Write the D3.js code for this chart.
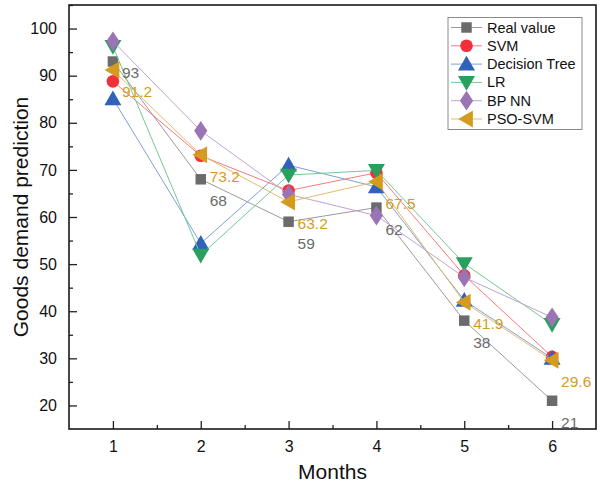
<!DOCTYPE html>
<html><head><meta charset="utf-8">
<script src="https://cdn.jsdelivr.net/npm/d3@7"></script>
<style>body{margin:0;background:#fff}svg{display:block;font-family:Arial,"Liberation Sans",sans-serif}</style>
</head><body>
<svg id="c" width="600" height="491"></svg>
<script>
const months = [1, 2, 3, 4, 5, 6];
const seriesNames = ["Real value", "SVM", "Decision Tree", "LR", "BP NN", "PSO-SVM"];
const realValue = [93, 68, 59, 62, 38, 21];
const svm = [88.8, 73.0, 65.6, 69.4, 47.6, 30.3];
const decisionTree = [85.1, 54.4, 71.0, 66.4, 42.3, 30.0];
const lr = [96.2, 51.9, 68.9, 69.9, 50.1, 37.2];
const bpnn = [97.3, 78.3, 64.8, 60.3, 47.2, 38.7];
const psoSvm = [91.2, 73.2, 63.2, 67.5, 41.9, 29.6];
const yTicks = [20, 30, 40, 50, 60, 70, 80, 90, 100];

const seriesValues = [realValue, svm, decisionTree, lr, bpnn, psoSvm];
const markerColors = ["#6b6b6b", "#f2303c", "#2f62b8", "#2aa05e", "#9b74b5", "#d49c1f"];
const lineColors = ["#9a9a9a", "#f67a80", "#7f9fd6", "#72c996", "#c0a3d2", "#e2bd6a"];
const shapes = ["square", "circle", "triUp", "triDown", "diamond", "triLeft"];

const svg = d3.select("#c");
const L = 69, R = 596, T = 5, B = 429;
const x = d3.scaleLinear().domain([0.5, 6.5]).range([L, R]);
const y = d3.scaleLinear().domain([15, 105]).range([B, T]);

const gx = svg.append("g").attr("transform", `translate(0,${B})`)
  .call(d3.axisBottom(x).tickValues(months).tickSizeInner(-8).tickSizeOuter(0).tickPadding(12).tickFormat(d3.format("d")));
const gxm = svg.append("g").attr("transform", `translate(0,${B})`)
  .call(d3.axisBottom(x).tickValues(months.slice(0, 5).map(d => d + 0.5)).tickSize(-4).tickFormat(""));
const gy = svg.append("g").attr("transform", `translate(${L},0)`)
  .call(d3.axisLeft(y).tickValues(yTicks).tickSizeInner(-8).tickSizeOuter(0).tickPadding(12).tickFormat(d3.format("d")));
const gym = svg.append("g").attr("transform", `translate(${L},0)`)
  .call(d3.axisLeft(y).tickValues(yTicks.map(d => d + 5)).tickSize(-4).tickFormat(""));
[gx, gxm, gy, gym].forEach(g => {
  g.select(".domain").remove();
  g.selectAll("line").attr("stroke", "#222").attr("stroke-width", 1.3);
  g.selectAll("text").attr("font-size", 16).attr("fill", "#111").attr("font-family", "Arial, 'Liberation Sans', sans-serif");
});
gx.selectAll("text").attr("dy", "0.71em");

svg.append("rect").attr("x", L).attr("y", T).attr("width", R - L).attr("height", B - T)
  .attr("fill", "none").attr("stroke", "#1a1a1a").attr("stroke-width", 1.6);

svg.append("text").attr("x", (L + R) / 2).attr("y", 479).attr("text-anchor", "middle")
  .attr("font-size", 21).attr("fill", "#111").text("Months");
svg.append("text").attr("transform", `translate(28,${(T + B) / 2}) rotate(-90)`).attr("text-anchor", "middle")
  .attr("font-size", 21).attr("fill", "#111").text("Goods demand prediction");

function marker(g, shape, cx, cy, color) {
  const s = {
    square: d3.symbol().type(d3.symbolSquare).size(110),
    circle: d3.symbol().type(d3.symbolCircle).size(125),
    triUp: d3.symbol().type(d3.symbolTriangle).size(125),
    triDown: d3.symbol().type(d3.symbolTriangle).size(125),
    diamond: d3.symbol().type(d3.symbolDiamond).size(125),
    triLeft: d3.symbol().type(d3.symbolTriangle).size(125)
  }[shape];
  const rot = shape === "triDown" ? 180 : shape === "triLeft" ? -90 : 0;
  const dy = shape === "triUp" ? 1.5 : shape === "triDown" ? -1.5 : 0;
  const dx = shape === "triLeft" ? 1.5 : 0;
  g.append("path").attr("d", s())
    .attr("transform", `translate(${cx + dx},${cy + dy}) rotate(${rot})` + (shape === "diamond" ? " scale(1.1,0.95)" : ""))
    .attr("fill", color);
}

const line = d3.line().x((d, i) => x(months[i])).y(d => y(d));
seriesValues.forEach((vals, si) => {
  const g = svg.append("g");
  g.append("path").datum(vals).attr("d", line).attr("fill", "none")
    .attr("stroke", lineColors[si]).attr("stroke-width", 1);
  vals.forEach((v, i) => marker(g, shapes[si], x(months[i]), y(v), markerColors[si]));
});

const labelSets = [[realValue, "#6b6b6b"], [psoSvm, "#d49c1f"]];
labelSets.forEach(([vals, col], k) => {
  vals.forEach((v, i) => {
    const off = (k === 0 && i === 0) ? 16 : 27;
    svg.append("text").attr("x", x(months[i]) + 9).attr("y", y(v) + off)
      .attr("font-size", 15.5).attr("fill", col).text(v);
  });
});

const lg = svg.append("g");
lg.append("rect").attr("x", 448).attr("y", 17.5).attr("width", 134).attr("height", 112)
  .attr("fill", "#fff").attr("stroke", "#8a8a8a").attr("stroke-width", 1);
seriesNames.forEach((name, i) => {
  const cy = 27.5 + i * 18.3;
  lg.append("line").attr("x1", 451).attr("x2", 482).attr("y1", cy).attr("y2", cy)
    .attr("stroke", lineColors[i]).attr("stroke-width", 1);
  marker(lg, shapes[i], 466.5, cy, markerColors[i]);
  lg.append("text").attr("x", 487).attr("y", cy + 5).attr("font-size", 14.5).attr("fill", "#111").text(name);
});
</script>
</body></html>
